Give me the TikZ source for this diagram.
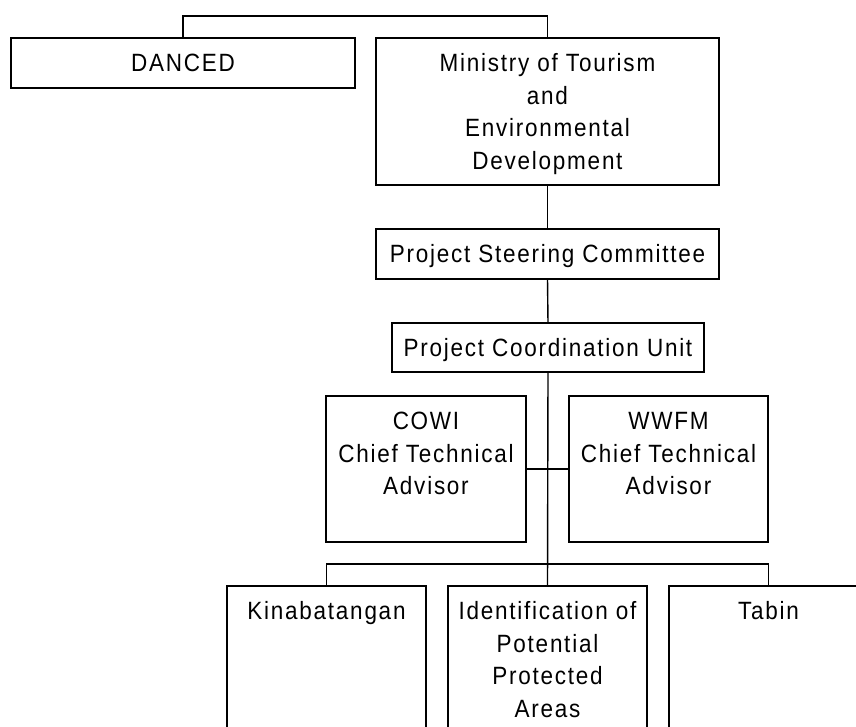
\documentclass[tikz,border=0pt]{standalone}
\usepackage{fontspec}
\setmainfont[FakeStretch=0.9,LetterSpace=7]{Liberation Sans}
\usetikzlibrary{calc}

% text block of fixed size, first line set 33.5pt below the top edge
\newcommand{\cellbox}[3]{\parbox[t][#2][t]{#1}{\centering\rule{0pt}{33.5pt}#3\par}}

\tikzset{
  unit/.style={draw=black, line width=1.4pt, inner sep=0pt, outer sep=0pt,
    anchor=north west, font=\fontsize{25}{32.7}\selectfont},
  link/.style={draw=black, line width=1.4pt}
}

\begin{document}
\begin{tikzpicture}[x=1pt,y=1pt]
  \useasboundingbox (0,0) rectangle (856,-727);
  \clip (0,0) rectangle (856,-727);
  \fill[white] (0,0) rectangle (856,-727);

  % top level
  \node[unit] (danced) at (11,-38) {\cellbox{344pt}{50pt}{DANCED}};
  \node[unit] (ministry) at (376,-38)
    {\cellbox{343pt}{147pt}{Ministry of Tourism\\and\\Environmental\\Development}};

  % project management
  \node[unit] (psc) at (376,-229) {\cellbox{343pt}{50pt}{Project Steering Committee}};
  \node[unit] (pcu) at (392,-323) {\cellbox{312pt}{49pt}{Project Coordination Unit}};

  % advisors
  \node[unit] (cowi) at (326,-396) {\cellbox{200pt}{146pt}{COWI\\Chief Technical\\Advisor}};
  \node[unit] (wwfm) at (569,-396) {\cellbox{199pt}{146pt}{WWFM\\Chief Technical\\Advisor}};

  % project components
  \node[unit] (kina) at (227,-586) {\cellbox{199pt}{170pt}{Kinabatangan}};
  \node[unit] (idpa) at (448,-586)
    {\cellbox{199pt}{170pt}{Identification of\\Potential\\Protected\\Areas}};
  \node[unit] (tabin) at (669,-586) {\cellbox{199pt}{170pt}{Tabin}};

  % connectors
  \draw[link] (danced.north) -- ++(0,22) -| (ministry.north);
  \draw[link] (ministry.south) -- (psc.north);
  \draw[link] (psc.south) -- (pcu.north);
  \draw[link] (pcu.south) -- (idpa.north);
  \draw[link] (cowi.east) -- (wwfm.west);
  \draw[link] (kina.north) -- ++(0,22) -| (tabin.north);
\end{tikzpicture}
\end{document}
